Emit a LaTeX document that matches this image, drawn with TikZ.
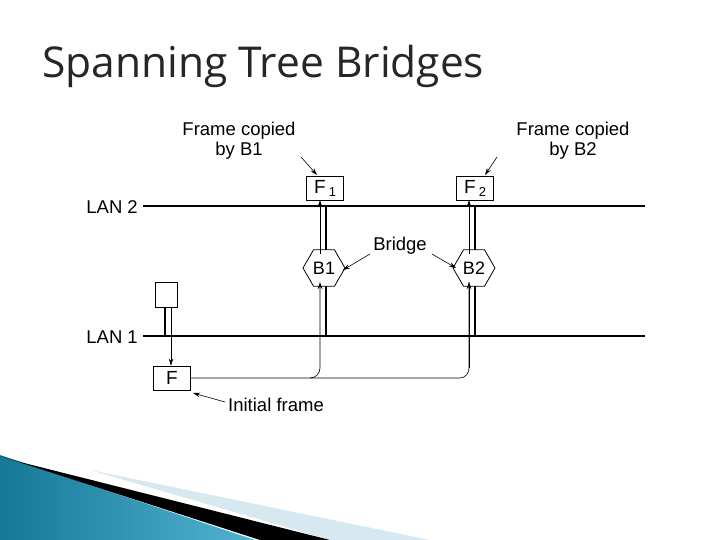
\documentclass[tikz,border=0pt]{standalone}
\usepackage{fontspec}
\setmainfont{Liberation Sans}
\newfontfamily\titlefont{Open Sans}
\usetikzlibrary{shapes.geometric,arrows.meta}
\definecolor{teal1}{RGB}{20,120,150}
\definecolor{teal2}{RGB}{80,180,210}
\definecolor{pale}{RGB}{215,232,240}
\begin{document}
\begin{tikzpicture}[x=1pt,y=-1pt,
  lbl/.style={font=\fontsize{18.5}{20}\selectfont,align=center,inner sep=0},
  box/.style={draw,line width=0.8pt,minimum width=37,minimum height=24,inner sep=0,font=\fontsize{19}{20}\selectfont},
  hexb/.style={draw,regular polygon,regular polygon sides=6,shape border rotate=0,minimum width=42,inner sep=0,line width=0.8pt,font=\fontsize{18}{20}\selectfont,fill=white},
  arr/.style={-{Stealth[length=7pt,width=4.5pt]},line width=0.6pt},
  lan/.style={line width=1.4pt}]
\useasboundingbox (0,0) rectangle (720,540);
% decoration
\shade[left color=teal1,right color=teal2] (0,455) -- (255,540) -- (0,540) -- cycle;
\fill[pale] (90,470) -- (430,540) -- (330,540) -- cycle;
\fill[black] (20,462) -- (330,540) -- (260,540) -- (0,456) -- cycle;
\node[anchor=base west,inner sep=0,font=\titlefont\fontsize{42.5}{44}\selectfont,text=black!85] (title) at (42,78) {Spanning Tree Bridges};
% LANs
\coordinate (l2a) at (143,206); \coordinate (l2b) at (645,206);
\coordinate (l1a) at (143,336); \coordinate (l1b) at (645,336);
\draw[lan] (l2a) -- (l2b);
\draw[lan,line width=2.5pt] (l1a) -- (l1b);
\node[lbl,anchor=east] (lan2) at (138,207) {LAN 2};
\node[lbl,anchor=east] (lan1) at (138,337) {LAN 1};
% bridges
\draw[line width=2.2pt] (326,206) -- (326,336);
\draw[line width=2.2pt] (475,206) -- (475,336);
\node[hexb] (b1) at (324,268) {B1};
\node[hexb] (b2) at (474,268) {B2};
\node[box] (f1) at (325,188) {F\,\raisebox{-3pt}{\fontsize{13}{14}\selectfont 1}};
\node[box] (f2) at (475,188) {F\,\raisebox{-3pt}{\fontsize{13}{14}\selectfont 2}};
% station
\node[draw,line width=0.8pt,minimum width=22,minimum height=25,inner sep=0] (st) at (166,295) {};
\draw[line width=1.6pt] (165,307.5) -- (165,336);
\node[box] (f) at (172,378) {F};
\draw[arr] (171,307.5) -- (f.north -| 171,0);
% frame path
\draw[arr] (f.east) -- (310,378) to[out=0,in=-90] (320,368) -- (320,282);
\draw[line width=0.6pt] (310,378) -- (460,378) to[out=0,in=-90] (469,368) -- (469,282);
\draw[arr] (469,368) -- (469,282);
\draw[arr] (320,254) -- (320,200);
\draw[arr] (469,254) -- (469,200);
% labels
\node[lbl] (t1) at (239,141) {Frame copied\\by B1};
\node[lbl] (t2) at (573,141) {Frame copied\\by B2};
\node[lbl] (tb) at (400,246) {Bridge};
\node[lbl,anchor=west] (ti) at (228,405) {Initial frame};
\draw[arr] (301,157) -- (317,175);
\draw[arr] (497,157) -- (485,175);
\draw[arr] (370,254) -- (343,270);
\draw[arr] (432,254) -- (456,268);
\draw[arr] (225,402) -- (193,393);
\end{tikzpicture}
\end{document}
